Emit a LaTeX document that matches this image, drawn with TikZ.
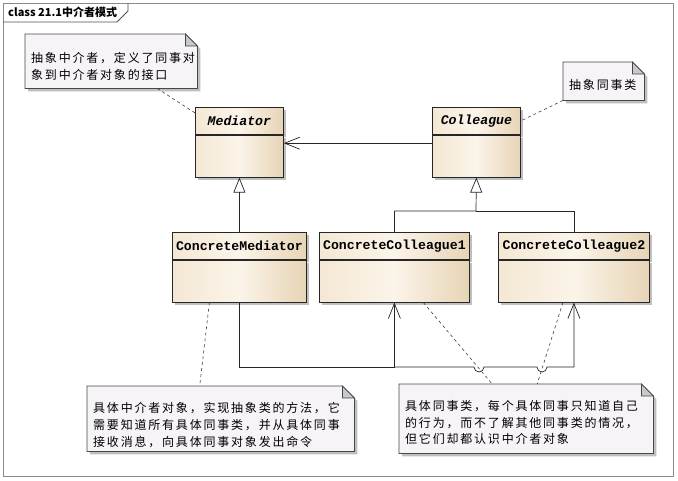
\documentclass[tikz,border=0pt]{standalone}
\usepackage{fontspec}
\setmonofont{Liberation Mono}
\newfontfamily\cjk{Noto Sans CJK SC}[LetterSpace=15]
\newfontfamily\titlefont{Noto Sans CJK SC}
\usepackage{tikz}
\usetikzlibrary{arrows.meta,positioning,shadows,backgrounds}

\definecolor{umlEdge}{HTML}{F4E8D4}
\definecolor{umlLight}{HTML}{FBF4E9}
\definecolor{umlDark}{HTML}{E7D4B5}
\definecolor{umlLine}{HTML}{262626}
\definecolor{noteBg}{HTML}{F7F4F7}
\definecolor{noteFold}{HTML}{C9C9CD}
\definecolor{frameGray}{HTML}{8A8A8A}

\tikzset{
  classhead/.style={draw=umlLine, line width=0.8pt, anchor=north west,
    left color=umlEdge, right color=umlDark, middle color=umlLight,
    minimum width=#1, minimum height=27pt, inner sep=0pt,
    font=\ttfamily\bfseries\fontsize{13.2}{15}\selectfont,
    drop shadow={shadow xshift=3pt, shadow yshift=-3pt, fill=black!25, opacity=1}},
  classbody/.style={classhead=#1, anchor=north, minimum height=42pt},
  notetext/.style={anchor=north west, inner xsep=6pt, inner ysep=0pt,
    minimum width=#1, text width=#1-12pt, align=left,
    font=\cjk\fontsize{12}{16.7}\selectfont},
  noteframe/.style={draw=umlLine!85, line width=0.7pt, fill=noteBg,
    drop shadow={shadow xshift=3pt, shadow yshift=-3pt, fill=black!25, opacity=1}},
  notefold/.style={draw=umlLine!85, line width=0.7pt, fill=noteFold},
  notelink/.style={draw=black!75, line width=0.6pt, dash pattern=on 3pt off 3pt},
  gen/.style={draw=umlLine, line width=0.7pt, -{Triangle[open, length=15pt, width=12pt]}},
  assoc/.style={draw=umlLine, line width=0.7pt, -{Straight Barb[length=15pt, width=12pt]}},
}

% outline of a note with folded corner
\newcommand\notebox[1]{%
  \filldraw[noteframe] (#1.north west) -- ([xshift=-12pt]#1.north east)
    -- ([yshift=-12pt]#1.north east) -- (#1.south east) -- (#1.south west) -- cycle;
  \filldraw[notefold] ([xshift=-12pt]#1.north east)
    -- ([xshift=-12pt,yshift=-12pt]#1.north east) -- ([yshift=-12pt]#1.north east) -- cycle;}

\begin{document}
\begin{tikzpicture}[x=1pt, y=-1pt]
  \useasboundingbox (0,0) rectangle (678,480);

  % frame and its tab
  \draw[frameGray, line width=1pt] (3,3) rectangle (673,476);
  \node[anchor=west, inner sep=0pt, font=\titlefont\bfseries\fontsize{11}{13}\selectfont] (title) at (8,12.5) {class 21.1中介者模式};
  \draw[umlLine!80, line width=0.8pt] (3,22) -- (117,22) -- (128,11) -- (128,3);

  % classes
  \node[classhead=88pt] (med) at (195,107) {\itshape Mediator};
  \node[classbody=88pt, below=0pt of med] (med-body) {};
  \node[classhead=88pt] (col) at (432,107) {\itshape Colleague};
  \node[classbody=88pt, below=0pt of col] (col-body) {};
  \node[classhead=134pt] (cmed) at (172,232) {ConcreteMediator};
  \node[classbody=134pt, below=0pt of cmed] (cmed-body) {};
  \node[classhead=150pt] (ccol1) at (319,232) {ConcreteColleague1};
  \node[classbody=150pt, below=0pt of ccol1] (ccol1-body) {};
  \node[classhead=151pt] (ccol2) at (498,232) {ConcreteColleague2};
  \node[classbody=151pt, below=0pt of ccol2] (ccol2-body) {};

  % notes
  \node[notetext=172pt, minimum height=54pt, text height=20pt] (noteAbsMed) at (25,34)
    {抽象中介者，定义了同事对\\象到中介者对象的接口};
  \node[notetext=81pt, minimum height=38pt, text height=17pt] (noteAbsCol) at (563,62)
    {抽象同事类};
  \node[notetext=267pt, minimum height=65pt, text height=23pt] (noteConMed) at (87,386)
    {具体中介者对象，实现抽象类的方法，它\\需要知道所有具体同事类，并从具体同事\\接收消息，向具体同事对象发出命令};
  \node[notetext=254pt, minimum height=69pt, text height=18pt] (noteConCol) at (399,384)
    {具体同事类，每个具体同事只知道自己\\的行为，而不了解其他同事类的情况，\\但它们却都认识中介者对象};
  \begin{scope}[on background layer]
    \fill[white] (0,0) rectangle (678,480);
    \notebox{noteAbsMed}
    \notebox{noteAbsCol}
    \notebox{noteConMed}
    \notebox{noteConCol}
  \end{scope}

  % generalizations
  \coordinate (join) at (476,211);
  \draw[gen] (cmed.north) -- (med-body.south);
  \draw[gen] (ccol1.north) |- (join) -- (col-body.south);
  \draw[umlLine, line width=0.7pt] (ccol2.north) |- (join);

  % associations
  \draw[assoc] ([yshift=13pt]col-body.west) -- ([yshift=13pt]med-body.east);
  \coordinate (bus) at (239,367);
  \coordinate (hopA) at (479,367);
  \coordinate (hopB) at (542,367);
  \draw[assoc] (cmed-body.south) |- (ccol1-body.south |- bus) -- (ccol1-body.south);
  \draw[assoc] (ccol1-body.south |- bus) -- ([xshift=-5pt]hopA) arc (180:0:5)
    -- ([xshift=-5pt]hopB) arc (180:0:5) -| (ccol2-body.south);

  % note links
  \draw[notelink] ([xshift=46pt]noteAbsMed.south) -- ([yshift=8pt]med.west);
  \draw[notelink] (noteAbsCol.south west) -- (col.east);
  \draw[notelink] ([xshift=-30pt]cmed-body.south) -- ([xshift=-21pt]noteConMed.north);
  \draw[notelink] ([xshift=29pt]ccol1-body.south) -- ([xshift=-34pt]noteConCol.north);
  \draw[notelink] ([xshift=-11pt]ccol2-body.south) -- ([xshift=11pt]noteConCol.north);
\end{tikzpicture}
\end{document}
